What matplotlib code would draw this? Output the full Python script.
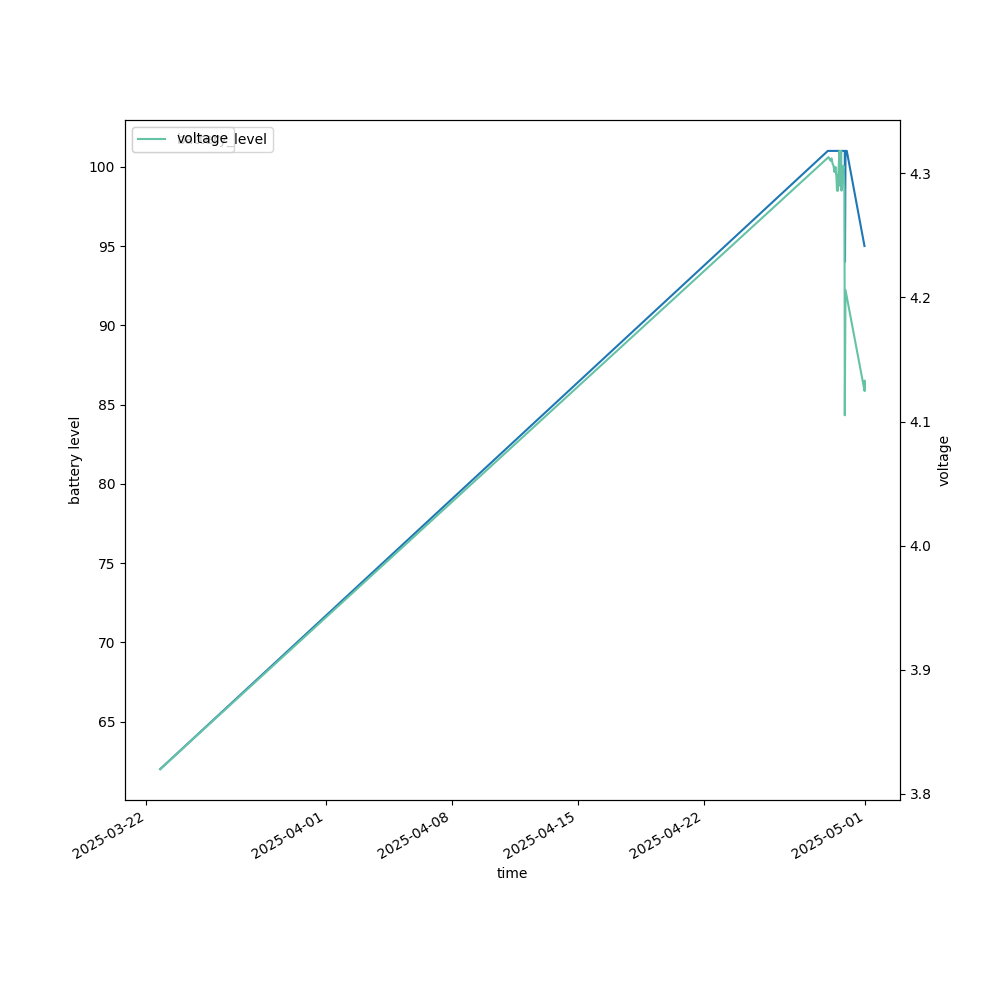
import matplotlib
matplotlib.use("Agg")
import matplotlib.pyplot as plt
import pandas as pd

# battery level samples
battery_time = [
    "2025-03-22 18:40", "2025-04-28 21:45", "2025-04-29 20:24",
    "2025-04-29 20:40", "2025-04-29 21:20", "2025-04-29 23:04",
    "2025-04-30 22:40",
]
battery_level = [62, 101, 101, 94, 101, 101, 95]

# voltage samples
voltage_time = [
    "2025-03-22 18:40", "2025-04-28 22:40", "2025-04-29 01:20",
    "2025-04-29 02:40", "2025-04-29 04:00", "2025-04-29 05:20",
    "2025-04-29 06:40", "2025-04-29 08:00", "2025-04-29 09:20",
    "2025-04-29 10:00", "2025-04-29 10:40", "2025-04-29 11:20",
    "2025-04-29 12:00", "2025-04-29 13:20", "2025-04-29 14:00",
    "2025-04-29 14:40", "2025-04-29 15:36", "2025-04-29 16:00",
    "2025-04-29 17:20", "2025-04-29 18:40", "2025-04-29 20:00",
    "2025-04-29 20:24", "2025-04-29 21:20", "2025-04-30 22:40",
    "2025-04-30 22:45", "2025-04-30 23:04",
]
voltage = [
    3.820, 4.313, 4.310, 4.312, 4.308, 4.306,
    4.301, 4.305, 4.296, 4.286, 4.298, 4.286,
    4.302, 4.318, 4.290, 4.310, 4.318, 4.286,
    4.298, 4.306, 4.286, 4.105, 4.206, 4.125,
    4.133, 4.125,
]

bt = pd.to_datetime(battery_time)
vt = pd.to_datetime(voltage_time)

fig, ax = plt.subplots(figsize=(10, 10), dpi=100)
ax.plot(bt, battery_level, color="#1f77b4", label="battery_level")
ax.set_xlabel("time")
ax.set_ylabel("battery level")
ax.legend(loc="upper left")

ax2 = ax.twinx()
ax2.plot(vt, voltage, color="#66c2a5", label="voltage")
ax2.set_ylabel("voltage")
ax2.legend(loc="upper left")

fig.autofmt_xdate()
fig.savefig("out.png")
